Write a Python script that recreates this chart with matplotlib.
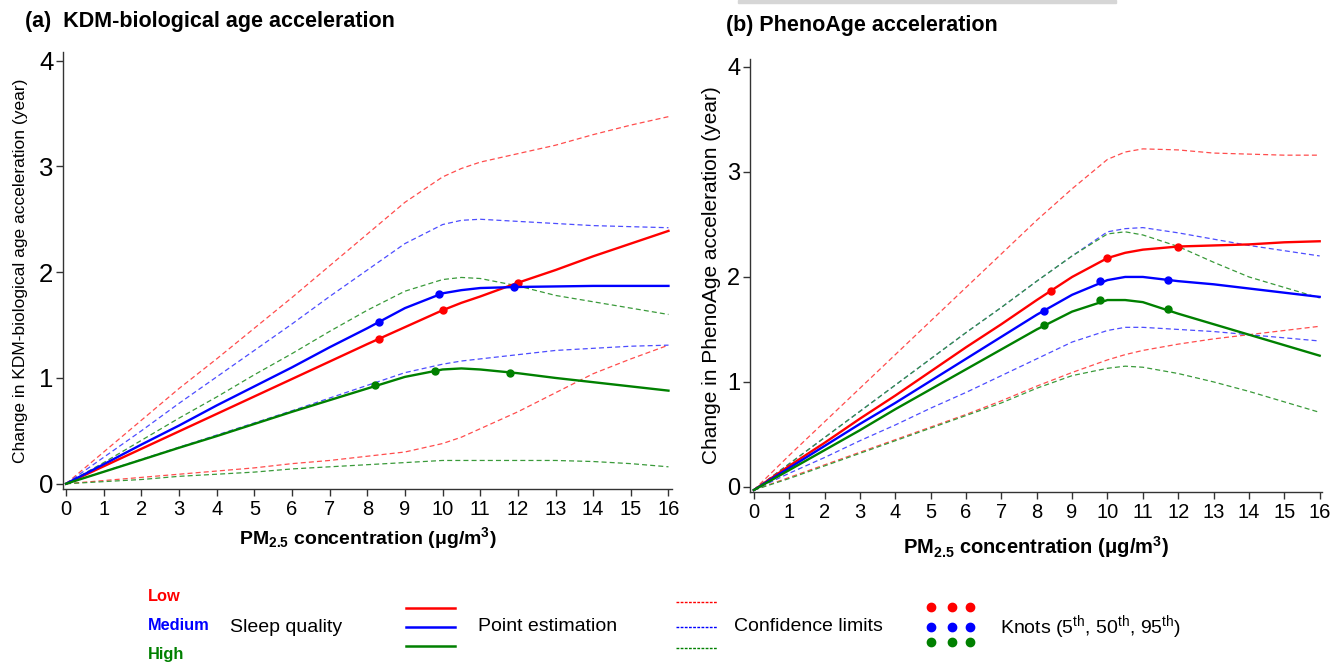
import matplotlib
matplotlib.use("Agg")
from matplotlib import pyplot as plt
from matplotlib.lines import Line2D
from matplotlib.patches import Rectangle

plt.rcParams['font.family'] = ['Liberation Sans', 'DejaVu Sans']
plt.rcParams['mathtext.default'] = 'regular'

# x grid shared by all curves
xs = [0, 1, 2, 3, 4, 5, 6, 7, 8, 9, 10, 10.5, 11, 12, 13, 14, 15, 16]

# ---- (a) KDM-biological age acceleration ----
a_low_est = [0, 0.165, 0.33, 0.495, 0.66, 0.825, 0.99, 1.155, 1.32, 1.48, 1.64, 1.71, 1.77, 1.90, 2.02, 2.15, 2.27, 2.39]
a_med_est = [0, 0.184, 0.37, 0.55, 0.74, 0.92, 1.10, 1.29, 1.47, 1.66, 1.80, 1.83, 1.85, 1.86, 1.865, 1.87, 1.87, 1.87]
a_high_est = [0, 0.113, 0.226, 0.34, 0.45, 0.565, 0.68, 0.79, 0.90, 1.01, 1.08, 1.09, 1.08, 1.045, 1.0, 0.96, 0.92, 0.88]
a_low_up = [0, 0.3, 0.6, 0.9, 1.18, 1.47, 1.76, 2.06, 2.36, 2.66, 2.9, 2.98, 3.04, 3.12, 3.2, 3.3, 3.39, 3.47]
a_low_lo = [0, 0.03, 0.06, 0.09, 0.12, 0.15, 0.19, 0.22, 0.26, 0.30, 0.38, 0.44, 0.52, 0.68, 0.86, 1.04, 1.18, 1.31]
a_med_up = [0, 0.25, 0.5, 0.76, 1.01, 1.26, 1.51, 1.77, 2.02, 2.27, 2.45, 2.49, 2.50, 2.48, 2.46, 2.44, 2.43, 2.42]
a_med_lo = [0, 0.115, 0.23, 0.345, 0.46, 0.575, 0.69, 0.81, 0.93, 1.05, 1.13, 1.16, 1.18, 1.22, 1.26, 1.28, 1.30, 1.31]
a_high_up = [0, 0.2, 0.41, 0.62, 0.82, 1.03, 1.23, 1.44, 1.64, 1.82, 1.93, 1.95, 1.94, 1.87, 1.78, 1.72, 1.66, 1.60]
a_high_lo = [0, 0.02, 0.04, 0.07, 0.09, 0.11, 0.14, 0.16, 0.18, 0.2, 0.22, 0.22, 0.22, 0.22, 0.22, 0.21, 0.19, 0.16]
a_knot_x = [[8.3, 10.0, 12.0], [8.3, 9.9, 11.9], [8.2, 9.8, 11.8]]
a_knot_y = [[1.37, 1.64, 1.90], [1.53, 1.79, 1.86], [0.93, 1.07, 1.05]]

# ---- (b) PhenoAge acceleration ----
b_low_est = [-0.03, 0.2, 0.42, 0.65, 0.87, 1.1, 1.33, 1.55, 1.78, 2.0, 2.18, 2.23, 2.26, 2.29, 2.30, 2.31, 2.33, 2.34]
b_med_est = [-0.03, 0.18, 0.39, 0.6, 0.80, 1.01, 1.22, 1.43, 1.64, 1.83, 1.97, 2.0, 2.0, 1.96, 1.93, 1.89, 1.85, 1.81]
b_high_est = [-0.03, 0.16, 0.35, 0.54, 0.74, 0.93, 1.12, 1.31, 1.50, 1.67, 1.78, 1.78, 1.76, 1.65, 1.55, 1.45, 1.35, 1.25]
b_low_up = [-0.03, 0.3, 0.62, 0.94, 1.26, 1.58, 1.9, 2.22, 2.54, 2.84, 3.12, 3.19, 3.22, 3.21, 3.18, 3.17, 3.16, 3.16]
b_low_lo = [-0.03, 0.09, 0.21, 0.33, 0.45, 0.57, 0.69, 0.82, 0.96, 1.09, 1.21, 1.26, 1.3, 1.36, 1.41, 1.45, 1.49, 1.53]
b_med_up = [-0.03, 0.22, 0.47, 0.72, 0.97, 1.22, 1.47, 1.71, 1.96, 2.2, 2.43, 2.46, 2.47, 2.42, 2.36, 2.3, 2.25, 2.2]
b_med_lo = [-0.03, 0.13, 0.28, 0.44, 0.59, 0.75, 0.9, 1.06, 1.22, 1.38, 1.49, 1.52, 1.52, 1.5, 1.48, 1.45, 1.42, 1.39]
b_high_up = [-0.03, 0.22, 0.47, 0.72, 0.97, 1.22, 1.47, 1.71, 1.96, 2.2, 2.41, 2.43, 2.4, 2.29, 2.14, 2.0, 1.9, 1.8]
b_high_lo = [-0.03, 0.08, 0.2, 0.32, 0.44, 0.56, 0.68, 0.8, 0.94, 1.06, 1.13, 1.15, 1.14, 1.08, 1.0, 0.91, 0.81, 0.71]
b_knot_x = [[8.4, 10.0, 12.0], [8.2, 9.8, 11.7], [8.2, 9.8, 11.7]]
b_knot_y = [[1.87, 2.18, 2.29], [1.68, 1.96, 1.97], [1.54, 1.78, 1.69]]

groups = ['Low', 'Medium', 'High']
solid_cols = ['#ff0000', '#0000ff', '#008000']
dash_cols = ['#ff4d4d', '#4d4dff', '#3a9a3a']


def panel(ax, est, up, lo, kx, ky, ylab, ylab_size, ylab_x, ytick_size,
          ylim, xlim, xlab_size, xlab_pad):
    for i in range(3):
        ax.plot(xs, up[i], color=dash_cols[i], lw=0.9, dashes=(4, 2.5))
        ax.plot(xs, lo[i], color=dash_cols[i], lw=0.9, dashes=(4, 2.5))
    for i in range(3):
        ax.plot(xs, est[i], color=solid_cols[i], lw=1.7)
        ax.plot(kx[i], ky[i], 'o', color=solid_cols[i], ms=5)
    ax.set_xlim(*xlim)
    ax.set_ylim(*ylim)
    ax.set_xticks(range(17))
    ax.set_yticks(range(5))
    for s in ['top', 'right']:
        ax.spines[s].set_visible(False)
    for s in ['left', 'bottom']:
        ax.spines[s].set_color('#333333')
        ax.spines[s].set_linewidth(1.0)
    ax.tick_params(length=5, width=1, color='#333333', pad=3)
    ax.tick_params(axis='x', labelsize=14.5)
    ax.tick_params(axis='y', labelsize=ytick_size, pad=2)
    ax.set_ylabel(ylab, fontsize=ylab_size)
    ax.yaxis.set_label_coords(ylab_x, 0.5)
    ax.set_xlabel('PM$_{2.5}$ concentration (\u03bcg/m$^3$)', fontsize=xlab_size,
                  fontweight='bold', labelpad=xlab_pad)


fig = plt.figure(figsize=(13.33, 6.63), dpi=100)

ax1 = fig.add_axes([0.0473, 0.2624, 0.457, 0.659])
panel(ax1, [a_low_est, a_med_est, a_high_est], [a_low_up, a_med_up, a_high_up],
      [a_low_lo, a_med_lo, a_high_lo], a_knot_x, a_knot_y,
      'Change in KDM-biological age acceleration (year)', 12.5, -0.057, 18.5,
      (-0.05, 4.08), (-0.08, 16.1), 14, 4)

ax2 = fig.add_axes([0.5626, 0.258, 0.429, 0.653])
panel(ax2, [b_low_est, b_med_est, b_high_est], [b_low_up, b_med_up, b_high_up],
      [b_low_lo, b_med_lo, b_high_lo], b_knot_x, b_knot_y,
      'Change in PhenoAge acceleration (year)', 15, -0.05, 17,
      (-0.048, 4.076), (-0.11, 16.06), 14.5, 9)

fig.text(25 / 1333, 1 - 21 / 663, '(a)  KDM-biological age acceleration', fontsize=15.5,
         fontweight='bold', va='center', ha='left')
fig.text(726 / 1333, 1 - 26 / 663, '(b) PhenoAge acceleration', fontsize=15.5,
         fontweight='bold', va='center', ha='left')

# light gray strip at the top (cropping remnant)
fig.patches.append(Rectangle((738 / 1333, 1 - 3 / 663), 378 / 1333, 3 / 663,
                             transform=fig.transFigure, color='#d6d6d6', zorder=0))

# legend drawn in pixel coordinates
lg = fig.add_axes([0, 0, 1, 93 / 663])
lg.set_xlim(0, 1333)
lg.set_ylim(663, 570)
lg.axis('off')
lg.set_zorder(-1)
label_rows = [597, 626, 655]
for i, g in enumerate(groups):
    lg.text(148, label_rows[i], g, color=solid_cols[i], fontsize=11.8,
            fontweight='bold', va='center', ha='left')
lg.text(230, 628, 'Sleep quality', fontsize=14, va='center')
for i, yy in enumerate([608, 627, 646]):
    lg.add_line(Line2D([406, 455], [yy, yy], color=solid_cols[i], lw=1.8))
lg.text(478, 627, 'Point estimation', fontsize=14, va='center')
for i, yy in enumerate([602, 627, 648]):
    lg.add_line(Line2D([676, 717], [yy, yy], color=solid_cols[i], lw=1.0, dashes=(2, 1)))
lg.text(734, 627, 'Confidence limits', fontsize=14, va='center')
for i, yy in enumerate([607, 627, 642]):
    lg.plot([931, 952, 970], [yy, yy, yy], 'o', color=solid_cols[i], ms=6)
lg.text(1000, 627, 'Knots (5$^{th}$, 50$^{th}$, 95$^{th}$)', fontsize=14, va='center')

fig.savefig('out.png', dpi=100)
